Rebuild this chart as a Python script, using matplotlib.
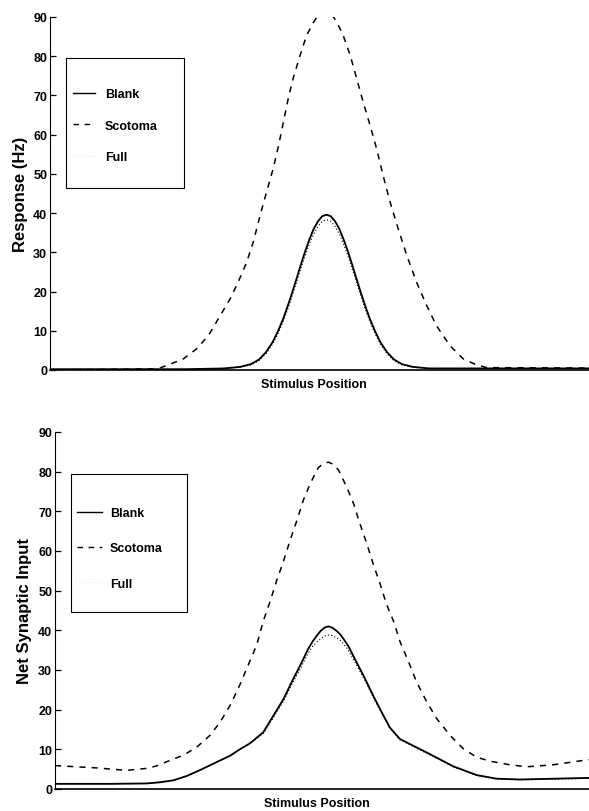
import matplotlib
matplotlib.use('Agg')
import matplotlib.pyplot as plt
from matplotlib.lines import Line2D
from matplotlib.patches import Rectangle

plt.rcParams['font.family'] = ['Liberation Sans', 'DejaVu Sans']

# ---- top panel: response (Hz) vs stimulus position ----
resp_x = [0.0, 0.25, 0.323, 0.353, 0.373, 0.388, 0.401, 0.413, 0.423, 0.433,
          0.441, 0.449, 0.457, 0.465, 0.473, 0.481, 0.489, 0.497, 0.505, 0.513,
          0.521, 0.529, 0.537, 0.545, 0.553, 0.561, 0.569, 0.577, 0.585, 0.593,
          0.603, 0.613, 0.625, 0.638, 0.653, 0.673, 0.703, 0.75, 1.0]
resp_blank = [0.2, 0.2, 0.4, 0.8, 1.5, 2.7, 4.6, 7.1, 9.9, 13.2,
              16.3, 19.6, 23.1, 26.7, 30.1, 33.2, 35.9, 37.9, 39.2, 39.6,
              39.2, 37.9, 35.9, 33.2, 30.1, 26.7, 23.1, 19.6, 16.3, 13.2,
              9.9, 7.1, 4.6, 2.7, 1.5, 0.8, 0.4, 0.4, 0.4]
resp_full = [0.2, 0.2, 0.4, 0.7, 1.3, 2.4, 4.2, 6.6, 9.3, 12.5,
             15.5, 18.8, 22.2, 25.7, 29.0, 32.0, 34.6, 36.6, 37.9, 38.3,
             37.9, 36.6, 34.6, 32.0, 29.0, 25.7, 22.2, 18.8, 15.5, 12.5,
             9.3, 6.6, 4.2, 2.4, 1.3, 0.7, 0.4, 0.4, 0.4]

resp_scot_x = [0.0, 0.20, 0.223, 0.247, 0.272, 0.294, 0.312, 0.334, 0.349, 0.365,
               0.377, 0.390, 0.402, 0.414, 0.424, 0.433, 0.442, 0.451, 0.464, 0.476,
               0.489, 0.495, 0.500, 0.505, 0.510, 0.515, 0.520, 0.526, 0.532, 0.544,
               0.557, 0.569, 0.581, 0.594, 0.606, 0.618, 0.631, 0.646, 0.662, 0.680,
               0.699, 0.717, 0.742, 0.767, 0.788, 0.810, 1.0]
resp_scot = [0.0, 0.3, 1.5, 2.8, 5.4, 8.8, 13.0, 18.1, 22.4, 27.5,
             32.6, 39.5, 45.5, 51.3, 57.2, 63.2, 69.2, 74.3, 80.2, 85.3,
             88.7, 89.9, 90.6, 91.1, 91.3, 91.2, 90.8, 90.0, 88.7, 85.3,
             80.2, 74.3, 68.3, 62.3, 56.4, 49.6, 42.8, 36.0, 29.2, 22.4,
             16.4, 11.3, 6.2, 2.8, 1.5, 0.6, 0.5]

# ---- bottom panel: net synaptic input ----
syn_x = [0.0, 0.10, 0.172, 0.197, 0.222, 0.247, 0.272, 0.300, 0.328, 0.346,
         0.365, 0.390, 0.409, 0.428, 0.443, 0.459, 0.474, 0.482, 0.490, 0.497,
         0.505, 0.512, 0.519, 0.527, 0.534, 0.541, 0.549, 0.565, 0.581, 0.596,
         0.612, 0.627, 0.646, 0.671, 0.702, 0.746, 0.790, 0.827, 0.871, 1.0]
syn_blank = [1.3, 1.3, 1.4, 1.7, 2.2, 3.3, 4.8, 6.6, 8.4, 10.0,
             11.5, 14.3, 18.5, 22.7, 26.9, 31.1, 35.3, 37.1, 38.6, 39.8,
             40.7, 41.0, 40.7, 39.9, 39.0, 37.7, 36.1, 31.9, 27.7, 23.5,
             19.3, 15.5, 12.6, 10.9, 8.8, 5.7, 3.5, 2.6, 2.4, 2.8]
syn_full = [1.3, 1.3, 1.4, 1.7, 2.2, 3.3, 4.8, 6.6, 8.4, 10.0,
            11.5, 14.0, 18.0, 22.2, 26.3, 30.2, 34.2, 35.9, 37.0, 37.8,
            38.6, 38.8, 38.7, 38.1, 37.5, 36.5, 35.0, 31.2, 27.2, 23.1,
            19.0, 15.3, 12.4, 10.7, 8.6, 5.6, 3.4, 2.5, 2.3, 2.7]

syn_scot_x = [0.0, 0.08, 0.134, 0.172, 0.190, 0.215, 0.240, 0.265, 0.290, 0.309,
              0.328, 0.346, 0.362, 0.378, 0.390, 0.403, 0.415, 0.428, 0.440, 0.453,
              0.465, 0.478, 0.493, 0.502, 0.512, 0.522, 0.531, 0.546, 0.559, 0.571,
              0.584, 0.596, 0.609, 0.621, 0.634, 0.646, 0.662, 0.677, 0.696, 0.715,
              0.740, 0.765, 0.790, 0.815, 0.852, 0.883, 0.933, 0.989, 1.0]
syn_scot = [5.9, 5.3, 4.7, 5.2, 5.8, 7.2, 8.5, 10.5, 13.5, 16.8,
            21.1, 26.2, 31.3, 36.4, 42.3, 47.4, 52.5, 57.5, 62.6, 67.7,
            72.8, 77.0, 81.0, 82.0, 82.4, 81.8, 80.4, 76.2, 72.0, 66.9,
            61.8, 56.7, 51.6, 46.5, 42.3, 37.2, 32.1, 27.0, 22.0, 17.7,
            13.5, 10.1, 8.0, 7.0, 6.1, 5.6, 6.1, 7.2, 7.4]

labels = ['Blank', 'Scotoma', 'Full']
W, H = 589, 812


def px(x, y):
    # pixel (from top-left) -> figure fraction
    return x / W, 1 - y / H


fig = plt.figure(figsize=(W / 100, H / 100), dpi=100)

panels = [
    dict(rect=[50 / W, 1 - 371 / H, 539 / W, 353 / H],
         x=resp_x, blank=resp_blank, full=resp_full,
         sx=resp_scot_x, scot=resp_scot, ylabel='Response (Hz)', ylx=-0.041,
         frame=(66, 59, 184, 189), anchor=(73, 89), lsp=1.57, hlen=1.75, htp=0.8),
    dict(rect=[55 / W, 1 - 790 / H, 534 / W, 357 / H],
         x=syn_x, blank=syn_blank, full=syn_full,
         sx=syn_scot_x, scot=syn_scot, ylabel='Net Synaptic Input', ylx=-0.043,
         frame=(71, 475, 187, 613), anchor=(77, 508), lsp=1.87, hlen=2.0, htp=0.65),
]

for p in panels:
    ax = fig.add_axes(p['rect'])
    ax.plot(p['x'], p['full'], color='black', linestyle=(0, (1, 2)), linewidth=0.8)
    ax.plot(p['x'], p['blank'], color='black', linewidth=1.3)
    ax.plot(p['sx'], p['scot'], color='black', linestyle=(0, (4, 4)), linewidth=1.1)

    ax.set_xlim(0, 1)
    ax.set_ylim(0, 90)
    ax.set_yticks(range(0, 91, 10))
    ax.set_xticks([])
    for s in ['top', 'right']:
        ax.spines[s].set_visible(False)
    ax.spines['left'].set_linewidth(0.8)
    ax.spines['bottom'].set_linewidth(1.2)
    ax.tick_params(axis='y', direction='in', length=4, width=0.9, pad=2,
                   labelsize=9)
    for t in ax.get_yticklabels():
        t.set_fontweight('bold')

    ax.set_ylabel(p['ylabel'], fontsize=12, fontweight='bold')
    ax.yaxis.set_label_coords(p['ylx'], 0.5)
    ax.set_xlabel('Stimulus Position', fontsize=9, fontweight='bold')
    ax.xaxis.set_label_coords(0.49, -0.04)
    ax.xaxis.label.set_va('center')

    # legend: handles match the plotted styles, frame drawn separately
    handles = [Line2D([], [], color='black', linewidth=1.0),
               Line2D([], [], color='black', linestyle=(0, (4, 4)), linewidth=1.0),
               Line2D([], [], color='#dddddd', linestyle=(0, (1, 2)), linewidth=0.5)]
    ax0, ay0 = px(*p['anchor'])
    fig.legend(handles, labels, loc='upper left', bbox_to_anchor=(ax0, ay0),
               bbox_transform=fig.transFigure, frameon=False, borderpad=0,
               borderaxespad=0, labelspacing=p['lsp'],
               handlelength=p['hlen'], handletextpad=p['htp'],
               prop={'size': 9, 'weight': 'bold'})
    x0, y0, x1, y1 = p['frame']
    fx0, fy1 = px(x0, y0)
    fx1, fy0 = px(x1, y1)
    fig.patches.append(Rectangle((fx0, fy0), fx1 - fx0, fy1 - fy0,
                                 transform=fig.transFigure, fill=False,
                                 edgecolor='black', linewidth=0.8))

fig.savefig('out.png', dpi=100)
